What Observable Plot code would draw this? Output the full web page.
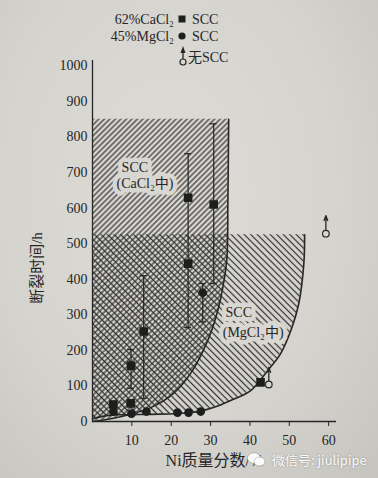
<!DOCTYPE html>
<html><head><meta charset="utf-8">
<script src="https://cdn.jsdelivr.net/npm/d3@7"></script>
<script src="https://cdn.jsdelivr.net/npm/@observablehq/plot@0.6"></script>
<style>
html,body{margin:0;padding:0;width:378px;height:478px;overflow:hidden;
background:radial-gradient(ellipse at 45% 40%, #dedcd7 0%, #d5d3ce 60%, #c6c4be 100%);}
#chart{position:absolute;left:0;top:0;}
#wm{position:absolute;left:247px;top:450px;color:#fbfbfb;font:13px "Noto Sans CJK SC","Noto Sans",sans-serif;
text-shadow:0 0 2px rgba(0,0,0,0.35);white-space:nowrap;display:flex;align-items:center;gap:6px;}
</style></head>
<body>
<div id="chart"></div>
<div id="wm"><svg width="19" height="15" viewBox="0 0 19 15"><ellipse cx="7" cy="6" rx="6.5" ry="5.3" fill="#fbfbfb" stroke="rgba(0,0,0,0.2)"/><ellipse cx="12.5" cy="9.5" rx="5.5" ry="4.5" fill="#fbfbfb" stroke="rgba(0,0,0,0.2)"/></svg><span>微信号: jiulipipe</span></div>
<script>
// axes
const xTicks = [10, 20, 30, 40, 50, 60];
const yTicks = [0, 100, 200, 300, 400, 500, 600, 700, 800, 900, 1000];

// SCC region boundaries (Ni %, rupture time h)
const caclBoundX = [0, 2, 8.4, 14.8, 20.6, 25.4, 29.3, 31.0, 32.6, 34.1, 34.4, 34.6];
const caclBoundY = [0, 3, 17, 39, 79, 143, 228, 280, 348, 452, 621, 850];
const mgBoundX = [0, 4.6, 14.8, 24, 28.5, 32, 35.1, 40.2, 44.5, 47.8, 50.4, 52.4, 53.7, 53.9];
const mgBoundY = [8, 18, 20, 24, 32, 44, 59, 87, 143, 191, 256, 331, 444, 525];

// 62% CaCl2 SCC (squares)
const caclX = [13.0, 9.8, 24.3, 24.3, 30.8, 5.3, 9.7, 42.7];
const caclY = [253, 157, 629, 444, 610, 48, 51, 110];
// 45% MgCl2 SCC (circles)
const mgX = [28.0, 5.3, 9.9, 13.7, 21.6, 24.4, 27.5];
const mgY = [362, 28, 22, 28, 25, 25, 28];
// scatter bars
const barX = [13.0, 9.8, 24.3, 30.8, 28.0];
const barLo = [65, 93, 264, 388, 280];
const barHi = [410, 202, 753, 837, 388];
// no SCC (open circle + arrow)
const noSccX = [44.8, 59.3];
const noSccY = [104, 528];
const noSccTip = [152, 579];

// region labels
const regionLabels = ["SCC", "(CaCl₂中)", "SCC", "(MgCl₂中)"];
const regionLabelX = [7.4, 6.1, 33.8, 33.1];
const regionLabelY = [714, 669, 306, 250];

const ink = "#262626";
const paper = "#d9d7d2";
const serif = "'Liberation Serif','Noto Sans CJK SC',serif";

const caclBound = caclBoundX.map((x, i) => ({x, y: caclBoundY[i]}));
const mgBound = mgBoundX.map((x, i) => ({x, y: mgBoundY[i]}));
const cacl = caclX.map((x, i) => ({x, y: caclY[i]}));
const mg = mgX.map((x, i) => ({x, y: mgY[i]}));
const bars = barX.map((x, i) => ({x, lo: barLo[i], hi: barHi[i]}));
const noScc = noSccX.map((x, i) => ({x, y: noSccY[i], tip: noSccTip[i]}));
const labels = regionLabels.map((t, i) => ({t, x: regionLabelX[i], y: regionLabelY[i]}));

const svg = Plot.plot({
  width: 378, height: 478,
  marginLeft: 92, marginRight: 42, marginTop: 60, marginBottom: 57,
  x: {domain: [0, 62]},
  y: {domain: [0, 1015]},
  style: {background: "transparent", fontFamily: serif, fontSize: "14px", color: ink},
  marks: [
    Plot.areaX(caclBound, {y: "y", x1: 0, x2: "x", curve: "catmull-rom", fill: "url(#hatchCa)"}),
    Plot.areaX(mgBound, {y: "y", x1: 0, x2: "x", curve: "catmull-rom", fill: "url(#hatchMg)"}),
    Plot.line(caclBound, {x: "x", y: "y", curve: "catmull-rom", stroke: ink, strokeWidth: 1.6}),
    Plot.line(mgBound, {x: "x", y: "y", curve: "catmull-rom", stroke: ink, strokeWidth: 1.6}),
    Plot.text(labels, {x: "x", y: "y", text: "t", textAnchor: "start", fill: ink, stroke: paper, strokeWidth: 9, fontSize: 14}),
    Plot.ruleX([0], {stroke: ink, strokeWidth: 1.3}),
    Plot.ruleY([0], {stroke: ink, strokeWidth: 1.3}),
    Plot.axisY({ticks: yTicks, tickSize: 0, tickPadding: 5, tickFormat: d => String(d), label: null, fontSize: 14}),
    Plot.axisX({ticks: xTicks, tickSize: 5, tickPadding: 9, tickFormat: d => String(d), label: null, fontSize: 14}),
    Plot.ruleX(bars, {x: "x", y1: "lo", y2: "hi", stroke: ink, strokeWidth: 1.2}),
    Plot.ruleY(bars, {y: "lo", x1: "x", x2: "x", insetLeft: -3.5, insetRight: -3.5, stroke: ink, strokeWidth: 1.2}),
    Plot.ruleY(bars, {y: "hi", x1: "x", x2: "x", insetLeft: -3.5, insetRight: -3.5, stroke: ink, strokeWidth: 1.2}),
    Plot.dot(cacl, {x: "x", y: "y", symbol: "square", r: 4, fill: "#1e1e1e", stroke: "#1e1e1e"}),
    Plot.dot(mg, {x: "x", y: "y", symbol: "circle", r: 3.6, fill: "#1e1e1e", stroke: "#1e1e1e"}),
    Plot.arrow(noScc, {x1: "x", y1: "y", x2: "x", y2: "tip", insetStart: 4, headLength: 6, headAngle: 40, stroke: ink, strokeWidth: 1.3}),
    Plot.dot(noScc, {x: "x", y: "y", r: 3.3, fill: paper, stroke: ink, strokeWidth: 1.2}),
    Plot.text(["断裂时间/h"], {frameAnchor: "left", rotate: -90, dx: -55, dy: 27, textAnchor: "middle", lineAnchor: "middle", fontSize: 15, fill: ink}),
    Plot.text(["Ni质量分数/%"], {frameAnchor: "bottom", dy: 39, textAnchor: "middle", lineAnchor: "middle", fontSize: 16, fill: ink})
  ]
});

// hatch patterns
const root = d3.select(svg);
const defs = root.insert("defs", ":first-child");
function hatch(id, spacing, angle) {
  const p = defs.append("pattern").attr("id", id).attr("patternUnits", "userSpaceOnUse")
    .attr("width", spacing).attr("height", 10).attr("patternTransform", `rotate(${angle})`);
  p.append("line").attr("x1", spacing / 2).attr("x2", spacing / 2).attr("y1", 0).attr("y2", 10)
    .attr("stroke", "#2c2c2c").attr("stroke-width", 1.2);
}
hatch("hatchCa", 3.9, 45);
hatch("hatchMg", 4.6, -45);

// legend
const lg = root.append("g").attr("font-family", serif).attr("fill", ink).attr("text-anchor", "start");
const rows = [
  {label: "62%CaCl₂", y: 19, sym: "square"},
  {label: "45%MgCl₂", y: 36, sym: "circle"}
];
rows.forEach(r => {
  lg.append("text").attr("x", 174).attr("y", r.y).attr("dy", "0.35em").attr("text-anchor", "end").attr("font-size", 14).text(r.label);
  if (r.sym === "square") lg.append("rect").attr("x", 178.5).attr("y", r.y - 3.5).attr("width", 7).attr("height", 7).attr("fill", "#1e1e1e");
  else lg.append("circle").attr("cx", 182).attr("cy", r.y).attr("r", 3.6).attr("fill", "#1e1e1e");
  lg.append("text").attr("x", 192).attr("y", r.y).attr("dy", "0.35em").attr("text-anchor", "start").attr("font-size", 14).text("SCC");
});
lg.append("line").attr("x1", 183).attr("x2", 183).attr("y1", 59).attr("y2", 50).attr("stroke", ink).attr("stroke-width", 1.3);
lg.append("path").attr("d", "M183,46 L180.5,53 L185.5,53 Z").attr("fill", ink);
lg.append("circle").attr("cx", 183).attr("cy", 62).attr("r", 3).attr("fill", paper).attr("stroke", ink).attr("stroke-width", 1.2);
lg.append("text").attr("x", 188).attr("y", 57).attr("dy", "0.35em").attr("text-anchor", "start").attr("font-size", 14).text("无SCC");

document.getElementById("chart").appendChild(svg);
</script>
</body></html>
